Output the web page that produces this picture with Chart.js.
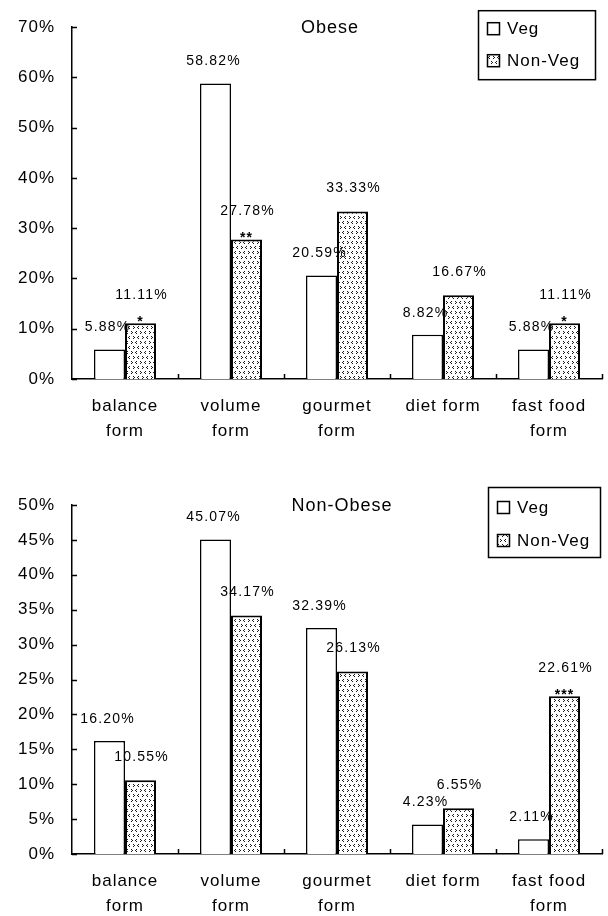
<!DOCTYPE html>
<html>
<head>
<meta charset="utf-8">
<script src="https://cdn.jsdelivr.net/npm/chart.js@4/dist/chart.umd.min.js"></script>
<style>
  html, body { margin: 0; padding: 0; background: #fff; }
  #wrap { position: relative; width: 608px; height: 916px; overflow: hidden; }
  canvas { position: absolute; left: 0; }
  #c1 { top: 0; }
  #c2 { top: 458px; }
</style>
</head>
<body>
<div id="wrap">
  <canvas id="c1" width="608" height="458"></canvas>
  <canvas id="c2" width="608" height="458"></canvas>
</div>
<script>
// Eating-style categories (x-axis tick labels, one entry per line)
const categoryLabels = [
  ['balance', 'form'],
  ['volume', 'form'],
  ['gourmet', 'form'],
  'diet form',
  ['fast food', 'form']
];
const seriesNames = ['Veg', 'Non-Veg'];

// Obese group (%)
const obeseVeg = [5.88, 58.82, 20.59, 8.82, 5.88];
const obeseNonVeg = [11.11, 27.78, 33.33, 16.67, 11.11];
const obeseSignif = ['*', '**', '', '', '*'];

// Non-obese group (%)
const nonObeseVeg = [16.20, 45.07, 32.39, 4.23, 2.11];
const nonObeseNonVeg = [10.55, 34.17, 26.13, 6.55, 22.61];
const nonObeseSignif = ['', '', '', '', '***'];

const FONT = '"Liberation Sans", Arial, sans-serif';
const INK = '#000';

// Small chevron dot texture used for the Non-Veg bars
function makeDotPattern() {
  const c = document.createElement('canvas');
  c.width = 9; c.height = 10;
  const g = c.getContext('2d');
  g.fillStyle = '#fff';
  g.fillRect(0, 0, 9, 10);
  g.fillStyle = '#1a1a1a';
  const pts = [[1,1],[0,2],[1,3],[5,1],[6,2],[5,3],[3,6],[2,7],[3,8],[7,6],[8,7],[7,8]];
  pts.forEach(([x, y]) => g.fillRect(x, y, 1, 1));
  return g.createPattern(c, 'repeat');
}
const dotPattern = makeDotPattern();

// Text spacing for all chart text
const spacingPlugin = {
  id: 'spacing',
  beforeDraw(chart) { chart.ctx.letterSpacing = '1px'; }
};

// Inward tick marks on both axes
const innerTicks = {
  id: 'innerTicks',
  afterDraw(chart) {
    const ctx = chart.ctx, a = chart.chartArea;
    const y = chart.scales.y, x = chart.scales.x;
    ctx.save();
    ctx.strokeStyle = INK;
    ctx.lineWidth = 1.5;
    ctx.beginPath();
    y.ticks.forEach(t => {
      const py = Math.round(y.getPixelForValue(t.value)) + 0.5;
      ctx.moveTo(a.left, py); ctx.lineTo(a.left + 5, py);
    });
    const n = x.ticks.length, w = (a.right - a.left) / n;
    for (let i = 1; i <= n; i++) {
      const px = Math.round(a.left + i * w) + 0.5;
      ctx.moveTo(px, a.bottom); ctx.lineTo(px, a.bottom - 5);
    }
    ctx.stroke();
    ctx.restore();
  }
};

// Percent labels above each bar plus significance stars
const valueLabels = {
  id: 'valueLabels',
  afterDatasetsDraw(chart, args, opts) {
    const ctx = chart.ctx;
    ctx.save();
    ctx.fillStyle = INK;
    ctx.textAlign = 'center';
    ctx.letterSpacing = '1.2px';
    chart.data.datasets.forEach((ds, di) => {
      chart.getDatasetMeta(di).data.forEach((bar, i) => {
        const txt = ds.data[i].toFixed(2) + '%';
        ctx.font = '14px ' + FONT;
        ctx.textBaseline = 'middle';
        if (di === 0) {
          ctx.fillText(txt, bar.x - 2, bar.y - 22);
        } else {
          const star = opts.signif[i];
          ctx.fillText(txt, bar.x + 1, bar.y - (star ? 28 : 23));
          if (star) {
            ctx.font = 'bold 14px ' + FONT;
            ctx.letterSpacing = '1px';
            ctx.textBaseline = 'alphabetic';
            ctx.fillText(star, bar.x, bar.y + 3);
            ctx.letterSpacing = '1.2px';
          }
        }
      });
    });
    ctx.restore();
  }
};

// Panel title and boxed legend drawn inside the plot area
const panelDecor = {
  id: 'panelDecor',
  afterDraw(chart, args, opts) {
    const ctx = chart.ctx, a = chart.chartArea;
    ctx.save();
    ctx.fillStyle = INK;
    ctx.strokeStyle = INK;
    ctx.letterSpacing = '1px';
    ctx.font = '18px ' + FONT;
    ctx.textAlign = 'center';
    ctx.textBaseline = 'middle';
    ctx.fillText(opts.title, opts.titleX, a.top + 1);

    const L = opts.legend;
    ctx.lineWidth = 1.5;
    ctx.strokeRect(L.x + 0.5, a.top + L.dy + 0.5, L.w, L.h);
    ctx.font = '17px ' + FONT;
    ctx.textAlign = 'left';
    chart.data.datasets.forEach((ds, i) => {
      const cy = a.top + L.dy + L.rows[i];
      const sx = L.x + 9, sy = cy - 6;
      ctx.fillStyle = ds.backgroundColor;
      ctx.fillRect(sx, sy, 12, 12);
      ctx.lineWidth = 1.5;
      ctx.strokeRect(sx + 0.5, sy + 0.5, 12, 12);
      ctx.fillStyle = INK;
      ctx.fillText(ds.label, L.x + 29, cy + 1);
    });
    ctx.restore();
  }
};

function buildPanel(id, cfg) {
  const canvas = document.getElementById(id);
  const H = canvas.height;
  return new Chart(canvas, {
    type: 'bar',
    data: {
      labels: categoryLabels,
      datasets: [
        { label: seriesNames[0], data: cfg.veg, backgroundColor: '#ffffff',
          borderColor: INK, borderWidth: 1.5 },
        { label: seriesNames[1], data: cfg.nonVeg, backgroundColor: dotPattern,
          borderColor: INK, borderWidth: 2 }
      ]
    },
    options: {
      responsive: false,
      animation: false,
      devicePixelRatio: 1,
      datasets: { bar: { categoryPercentage: 0.585, barPercentage: 1 } },
      layout: { padding: { top: cfg.top, right: 6, left: 0, bottom: 0 } },
      scales: {
        x: {
          grid: { display: false, drawTicks: false },
          border: { display: true, color: INK, width: 1.5 },
          ticks: { color: INK, autoSkip: false, maxRotation: 0, padding: 15,
                   font: { family: FONT, size: 17, lineHeight: 1.47 } },
          afterFit(s) { s.height = H - cfg.bottom; }
        },
        y: {
          min: 0, max: cfg.max,
          grid: { display: false, drawTicks: false },
          border: { display: true, color: INK, width: 1.5 },
          ticks: { stepSize: cfg.step, color: INK, padding: 17,
                   font: { family: FONT, size: 17 },
                   callback: v => v + '%' },
          afterFit(s) { s.width = 72; }
        }
      },
      plugins: {
        legend: { display: false },
        tooltip: { enabled: false },
        valueLabels: { signif: cfg.signif },
        panelDecor: { title: cfg.title, titleX: cfg.titleX, legend: cfg.legend }
      }
    },
    plugins: [spacingPlugin, innerTicks, valueLabels, panelDecor]
  });
}

buildPanel('c1', {
  title: 'Obese', titleX: 330,
  veg: obeseVeg, nonVeg: obeseNonVeg, signif: obeseSignif,
  max: 70, step: 10, top: 25, bottom: 379,
  legend: { x: 478, dy: -17, w: 117, h: 69, rows: [18, 50] }
});
buildPanel('c2', {
  title: 'Non-Obese', titleX: 342,
  veg: nonObeseVeg, nonVeg: nonObeseNonVeg, signif: nonObeseSignif,
  max: 50, step: 5, top: 47, bottom: 396,
  legend: { x: 488, dy: -18, w: 112, h: 70, rows: [20, 53] }
});
</script>
</body>
</html>
